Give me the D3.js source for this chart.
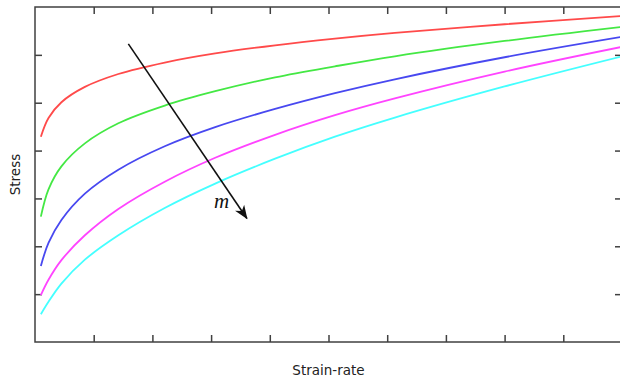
<!DOCTYPE html>
<html>
<head>
<meta charset="utf-8">
<script src="https://cdn.jsdelivr.net/npm/d3@7"></script>
<style>
  body { margin: 0; background: #fff; }
  .axis text { display: none; }
  .axis line { stroke: #404040; stroke-width: 1.5; }
  .label { font-family: "DejaVu Sans", sans-serif; font-size: 13.5px; fill: #222; }
</style>
</head>
<body>
<div id="chart"></div>
<script>
// Chart size
var svgWidth = 620;
var svgHeight = 381;

var margin = { top: 7, right: -2, bottom: 39, left: 35 };
var chartWidth = svgWidth - margin.left - margin.right;
var chartHeight = svgHeight - margin.top - margin.bottom;

// Data (x in tick units, y in tick units)
var strainRate    = [0.1, 0.23, 0.45, 0.85, 1.42, 2.21, 3.07, 4.09, 5.11, 6.13, 8.0, 9.97];
var stressRed     = [4.29, 4.68, 5.01, 5.33, 5.60, 5.84, 6.03, 6.20, 6.34, 6.46, 6.64, 6.81];
var stressGreen   = [2.62, 3.19, 3.67, 4.15, 4.57, 4.94, 5.24, 5.53, 5.76, 5.97, 6.29, 6.58];
var stressBlue    = [1.59, 2.07, 2.55, 3.10, 3.60, 4.09, 4.49, 4.87, 5.20, 5.49, 5.95, 6.37];
var stressMagenta = [0.98, 1.30, 1.71, 2.23, 2.78, 3.35, 3.85, 4.33, 4.74, 5.09, 5.65, 6.16];
var stressCyan    = [0.58, 0.84, 1.22, 1.72, 2.23, 2.80, 3.31, 3.83, 4.29, 4.69, 5.34, 5.96];
var seriesColors = ["#ff4a4a", "#44e844", "#4848f0", "#ff44ff", "#44ffff"];

var xTicks = [1, 2, 3, 4, 5, 6, 7, 8, 9];
var yTicks = [1, 2, 3, 4, 5, 6];

// Arrow annotation (start and end, in data units)
var arrowStart = [1.59, 6.23];
var arrowEnd = [3.61, 2.58];
var arrowLabel = "m";

var svg = d3.select("#chart")
  .append("svg")
  .attr("width", svgWidth)
  .attr("height", svgHeight);

var defs = svg.append("defs");
defs.append("marker")
  .attr("id", "head")
  .attr("viewBox", "-14 -6 16 12")
  .attr("refX", 0)
  .attr("refY", 0)
  .attr("markerUnits", "userSpaceOnUse")
  .attr("markerWidth", 16)
  .attr("markerHeight", 12)
  .attr("orient", "auto")
  .append("path")
  .attr("d", "M1,0 L-13,-5.5 L-9,0 L-13,5.5 Z")
  .attr("fill", "#111");

var chartGroup = svg.append("g")
  .attr("transform", `translate(${margin.left}, ${margin.top})`);

var xScale = d3.scaleLinear().domain([0, 10]).range([0, chartWidth]);
var yScale = d3.scaleLinear().domain([0, 7]).range([chartHeight, 0]);

// Axes on all four sides, ticks pointing inward, no labels
chartGroup.append("g").classed("axis", true)
  .attr("transform", `translate(0, ${chartHeight})`)
  .call(d3.axisBottom(xScale).tickValues(xTicks).tickSizeInner(-7).tickSizeOuter(0).tickFormat(""));
chartGroup.append("g").classed("axis", true)
  .call(d3.axisTop(xScale).tickValues(xTicks).tickSizeInner(-7).tickSizeOuter(0).tickFormat(""));
chartGroup.append("g").classed("axis", true)
  .call(d3.axisLeft(yScale).tickValues(yTicks).tickSizeInner(-7).tickSizeOuter(0).tickFormat(""));
chartGroup.append("g").classed("axis", true)
  .attr("transform", `translate(${chartWidth}, 0)`)
  .call(d3.axisRight(yScale).tickValues(yTicks).tickSizeInner(-7).tickSizeOuter(0).tickFormat(""));
chartGroup.selectAll(".axis .domain").remove();

chartGroup.append("rect")
  .attr("x", 0).attr("y", 0)
  .attr("width", chartWidth).attr("height", chartHeight)
  .attr("fill", "none")
  .attr("stroke", "#404040")
  .attr("stroke-width", 1.5);

// Curves
var allSeries = [stressRed, stressGreen, stressBlue, stressMagenta, stressCyan];
var drawLine = d3.line()
  .x(d => xScale(d[0]))
  .y(d => yScale(d[1]))
  .curve(d3.curveCatmullRom.alpha(0.5));

allSeries.forEach(function(values, i) {
  var pts = strainRate.map((x, j) => [x, values[j]]);
  chartGroup.append("path")
    .attr("d", drawLine(pts))
    .attr("fill", "none")
    .attr("stroke", seriesColors[i])
    .attr("stroke-width", 1.8);
});

// Arrow
chartGroup.append("line")
  .attr("x1", xScale(arrowStart[0])).attr("y1", yScale(arrowStart[1]))
  .attr("x2", xScale(arrowEnd[0])).attr("y2", yScale(arrowEnd[1]))
  .attr("stroke", "#111")
  .attr("stroke-width", 1.6)
  .attr("marker-end", "url(#head)");

chartGroup.append("text")
  .attr("x", xScale(arrowEnd[0]) - 33)
  .attr("y", yScale(arrowEnd[1]) - 11)
  .attr("font-family", "Liberation Serif, serif")
  .attr("font-style", "italic")
  .attr("font-size", 21)
  .attr("fill", "#111")
  .text(arrowLabel);

// Axis titles
svg.append("text")
  .attr("class", "label")
  .attr("x", margin.left + xScale(5))
  .attr("y", 375)
  .attr("text-anchor", "middle")
  .text("Strain-rate");

svg.append("text")
  .attr("class", "label")
  .attr("transform", `translate(20, ${margin.top + yScale(3.5)}) rotate(-90)`)
  .attr("text-anchor", "middle")
  .text("Stress");
</script>
</body>
</html>
